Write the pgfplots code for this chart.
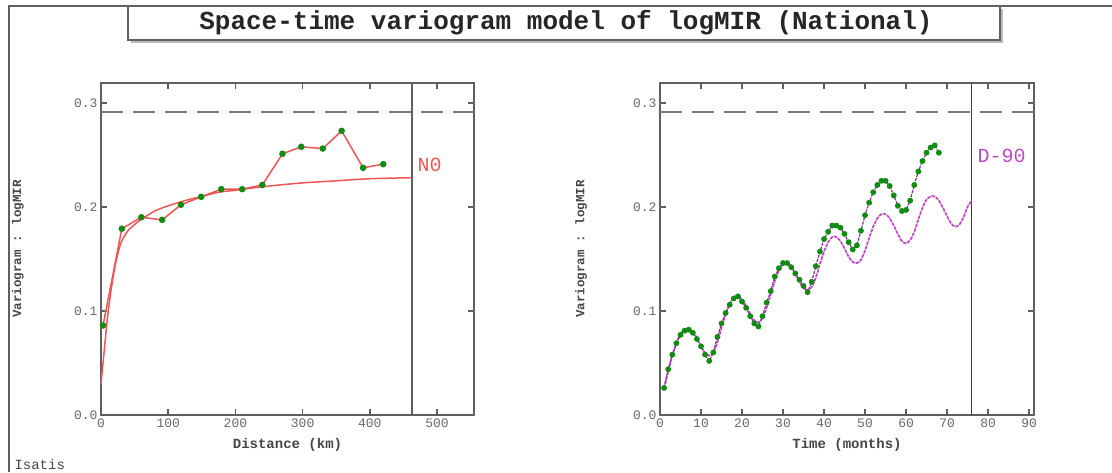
\documentclass[border=0pt]{standalone}
\usepackage{pgfplots}
\pgfplotsset{compat=1.18}
\usepackage{fontspec}
\setmainfont{Liberation Mono}
\definecolor{framec}{RGB}{95,95,95}
\definecolor{tickc}{RGB}{105,105,105}
\definecolor{labc}{RGB}{70,70,70}
\definecolor{redc}{RGB}{238,85,85}
\definecolor{magc}{RGB}{195,70,200}
\definecolor{greenc}{RGB}{20,140,20}
\definecolor{dashc}{RGB}{120,120,120}

\pgfplotsset{
  vario/.style={
    scale only axis, height=332pt,
    ymin=0, ymax=0.319,
    ytick={0,0.1,0.2,0.3}, yticklabels={0.0,0.1,0.2,0.3},
    tick align=inside, major tick length=6pt,
    axis line style={draw=framec, line width=2.2pt},
    tick style={draw=framec, line width=1.5pt},
    tick label style={font=\fontsize{13}{13}\selectfont, text=tickc},
    label style={font=\fontsize{14}{14}\selectfont\bfseries, text=labc},
    xlabel style={at={(axis description cs:0.5,-0.09)}, anchor=center},
    ylabel={Variogram : logMIR},
    ylabel style={anchor=center, font=\fontsize{12.5}{13}\selectfont\bfseries},
    clip=false,
  }
}

\begin{document}
\begin{tikzpicture}[x=1pt,y=1pt]
\useasboundingbox (0,0) rectangle (1112,472);
\fill[white] (0,0) rectangle (1112,472);
% outer frame
\draw[line width=2pt, color=framec] (9,0) -- (9,466) -- (1112,466);
% title box with shadow
\fill[gray!55] (131,429) rectangle (1003,463);
\filldraw[fill=white, draw=framec, line width=1.5pt] (128,432) rectangle (1000,466);
\node[font=\fontsize{26}{28}\selectfont\bfseries, text=black!85] at (566,449) {Space-time variogram model of logMIR (National)};
\node[anchor=west, font=\fontsize{14}{14}\selectfont, text=labc] at (11,8) {Isatis};

% ---------------- left: distance ----------------
\begin{axis}[vario,
  at={(101pt,57pt)}, anchor=south west, width=373pt,
  xmin=0, xmax=555,
  xtick={0,100,200,300,400,500}, xticklabels={0,100,200,300,400,500},
  xlabel={Distance (km)},
  ylabel style={at={(axis description cs:-0.2225,0.5)}},
]
\addplot[dashc, line width=2pt, dash pattern=on 22pt off 10pt] coordinates {(0,0.291) (555,0.291)};
\addplot[framec, line width=2pt] coordinates {(462,0) (462,0.319)};
% model
\addplot[redc, line width=1.5pt, smooth] coordinates {
(0,0.030) (3,0.050) (6,0.070) (9,0.090) (12,0.106) (15,0.120) (20,0.140) (25,0.155)
(30,0.166) (35,0.172) (40,0.177) (50,0.183) (60,0.188) (80,0.196) (100,0.201)
(125,0.206) (150,0.210) (175,0.214) (200,0.216) (250,0.220) (300,0.223)
(350,0.225) (400,0.227) (462,0.228)};
% experimental
\addplot[redc, line width=1.5pt, mark=*, mark size=2.5pt,
  mark options={fill=greenc, draw=greenc, solid}] coordinates {
(3,0.086) (31,0.179) (60,0.190) (91,0.1875) (119,0.202) (149,0.2096) (179,0.217)
(210,0.217) (240,0.221) (270,0.251) (298,0.2577) (330,0.256) (358,0.273)
(390,0.2375) (420,0.241)};
\node[anchor=west, text=redc, font=\fontsize{20}{20}\selectfont] at (axis cs:466,0.240) {N0};
\end{axis}

% ---------------- right: time ----------------
\begin{axis}[vario,
  at={(660pt,57pt)}, anchor=south west, width=374pt,
  xmin=0, xmax=91.2,
  xtick={0,10,...,90}, xticklabels={0,10,20,30,40,50,60,70,80,90},
  xlabel={Time (months)},
  ylabel style={at={(axis description cs:-0.211,0.5)}},
]
\addplot[dashc, line width=2pt, dash pattern=on 22pt off 10pt] coordinates {(0,0.291) (91.2,0.291)};
\addplot[black!75, line width=1.5pt] coordinates {(76,0) (76,0.319)};
% model
\addplot[magc, line width=1.7pt, dash pattern=on 3.5pt off 1pt, smooth] coordinates {
(1,0.026) (2,0.042) (3,0.057) (4,0.069) (5,0.078) (6,0.082) (7,0.083) (8,0.080)
(9,0.074) (10,0.066) (11,0.060) (12,0.057) (13,0.060) (14,0.070) (15,0.084) (16,0.097)
(17,0.107) (18,0.113) (19,0.114) (20,0.111) (21,0.105) (22,0.097) (23,0.091) (24,0.089)
(25,0.093) (26,0.103) (27,0.116) (28,0.129) (29,0.139) (30,0.145) (31,0.146) (32,0.143)
(33,0.136) (34,0.128) (35,0.122) (36,0.120) (37,0.123) (38,0.132) (39,0.145) (40,0.157)
(41,0.166) (42,0.171) (43,0.171) (44,0.167) (45,0.160) (46,0.152) (47,0.147) (48,0.146)
(49,0.149) (50,0.158) (51,0.170) (52,0.181) (53,0.189) (54,0.193) (55,0.193) (56,0.189)
(57,0.182) (58,0.174) (59,0.167) (60,0.165) (61,0.168) (62,0.176) (63,0.188) (64,0.199)
(65,0.207) (66,0.210) (67,0.210) (68,0.206) (69,0.199) (70,0.191) (71,0.184) (72,0.181)
(73,0.183) (74,0.190) (75,0.200) (76,0.206)};
% experimental
\addplot[magc!70!black, line width=1.2pt, dash pattern=on 3pt off 1.2pt, mark=*, mark size=2.3pt,
  mark options={fill=greenc, draw=greenc, solid}] coordinates {
(1,0.026) (2,0.044) (3,0.058) (4,0.069) (5,0.077) (6,0.081) (7,0.082) (8,0.079)
(9,0.073) (10,0.066) (11,0.058) (12,0.052) (13,0.060) (14,0.075) (15,0.088) (16,0.098)
(17,0.106) (18,0.112) (19,0.114) (20,0.109) (21,0.103) (22,0.095) (23,0.088) (24,0.085)
(25,0.095) (26,0.108) (27,0.119) (28,0.133) (29,0.141) (30,0.146) (31,0.146) (32,0.142)
(33,0.136) (34,0.130) (35,0.124) (36,0.118) (37,0.128) (38,0.143) (39,0.157) (40,0.169)
(41,0.176) (42,0.182) (43,0.182) (44,0.180) (45,0.174) (46,0.166) (47,0.159) (48,0.163)
(49,0.177) (50,0.192) (51,0.204) (52,0.214) (53,0.221) (54,0.225) (55,0.225) (56,0.220)
(57,0.211) (58,0.201) (59,0.196) (60,0.197) (61,0.206) (62,0.221) (63,0.234) (64,0.244)
(65,0.252) (66,0.257) (67,0.259) (68,0.252)};
\node[anchor=west, text=magc, font=\fontsize{20}{20}\selectfont] at (axis cs:76.6,0.249) {D-90};
\end{axis}
\end{tikzpicture}
\end{document}
